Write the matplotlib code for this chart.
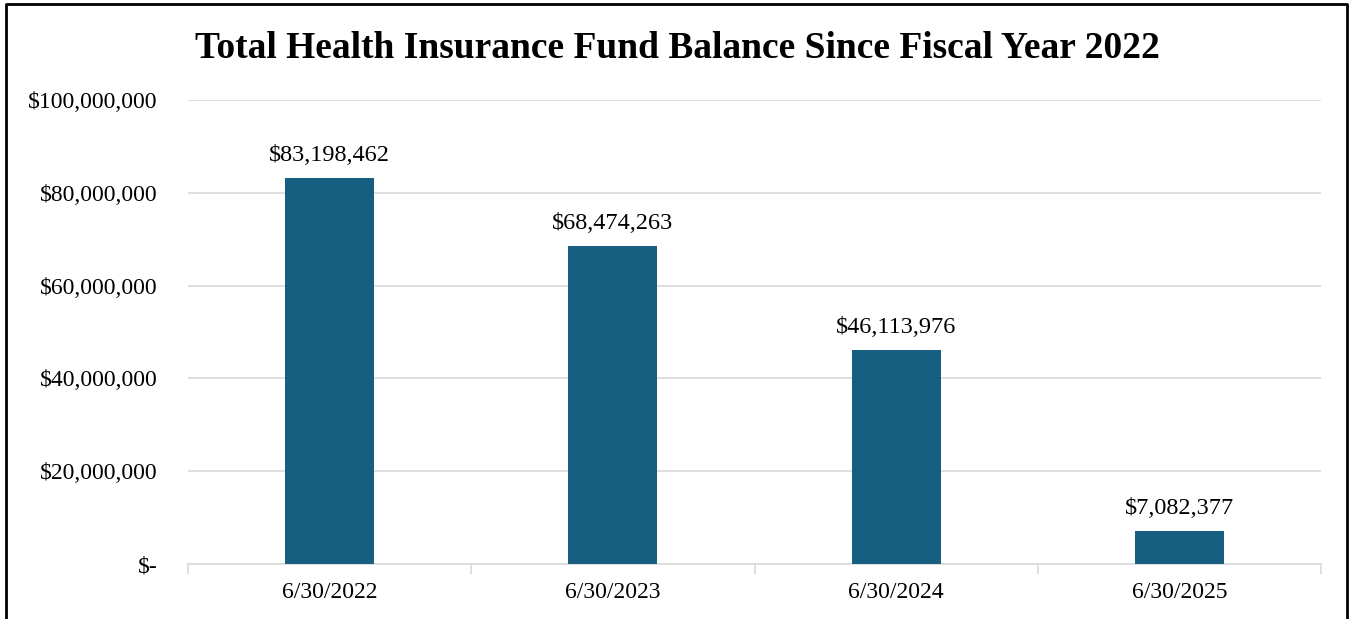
import matplotlib.pyplot as plt
from matplotlib.ticker import FuncFormatter
from matplotlib.lines import Line2D

dates = ['6/30/2022', '6/30/2023', '6/30/2024', '6/30/2025']
balances = [83198462, 68474263, 46113976, 7082377]
y_ticks = [0, 20000000, 40000000, 60000000, 80000000, 100000000]

plt.rcParams['font.family'] = ['Liberation Serif', 'DejaVu Serif']

W, H = 1351, 619
fig = plt.figure(figsize=(W / 100, H / 100), dpi=100)
ax = fig.add_axes([188 / W, 1 - 564 / H, (1321 - 188) / W, (564 - 100) / H])

x = range(len(dates))
bars = ax.bar(x, balances, width=0.315, color='#165F80', zorder=3)
for b, v in zip(bars, balances):
    ax.text(b.get_x() + b.get_width() / 2, v + 2600000, f'${v:,.0f}',
            ha='center', va='bottom', fontsize=17.5)

ax.set_xlim(-0.5, len(dates) - 0.5)
ax.set_ylim(0, 100000000)
ax.set_yticks(y_ticks)
ax.yaxis.set_major_formatter(FuncFormatter(lambda v, p: '$-' if v == 0 else f'${v:,.0f}'))
ax.set_xticks(list(x))
ax.set_xticklabels(dates)
ax.set_xticks([i - 0.5 for i in range(len(dates) + 1)], minor=True)
ax.tick_params(axis='y', length=0, pad=22, labelsize=17)
ax.tick_params(axis='x', which='major', length=0, pad=13, labelsize=17)
ax.tick_params(axis='x', which='minor', length=7, color='#D9D9D9', width=1.2)
ax.grid(axis='y', color='#D9D9D9', linewidth=1.2, zorder=0)
for s in ['top', 'right', 'left']:
    ax.spines[s].set_visible(False)
ax.spines['bottom'].set_color('#D9D9D9')
ax.spines['bottom'].set_linewidth(1.2)

fig.text(677 / W, 1 - 49 / H, 'Total Health Insurance Fund Balance Since Fiscal Year 2022',
         ha='center', va='center', fontsize=27, fontweight='bold')

# border on left, top and right
bx = [6 / W, 6 / W, 1347 / W, 1347 / W]
by = [0, 1 - 4 / H, 1 - 4 / H, 0]
fig.add_artist(Line2D(bx, by, color='black', linewidth=2, transform=fig.transFigure))

fig.savefig('out.png', dpi=100)
